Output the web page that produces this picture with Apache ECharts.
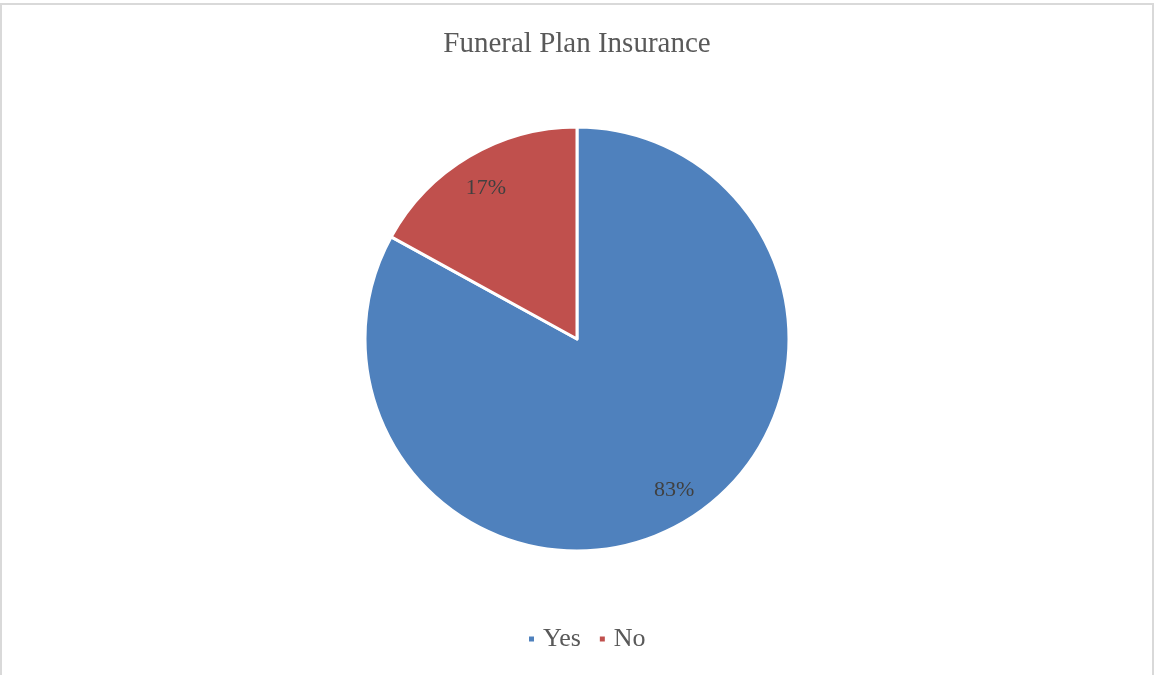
<!DOCTYPE html>
<html>
<head>
<meta charset="utf-8">
<title>Funeral Plan Insurance</title>
<script src="https://cdn.jsdelivr.net/npm/echarts@6/dist/echarts.min.js"></script>
<style>
  html, body { margin: 0; padding: 0; background: #ffffff; }
  #chart { width: 1154px; height: 675px; }
</style>
</head>
<body>
<div id="chart"></div>
<script>
// Survey answers: does the household hold funeral plan insurance?
const categories = ['Yes', 'No'];
const shares = [83, 17];
const colors = ['#4F81BD', '#C0504D'];

const serif = '"Liberation Serif", "Times New Roman", serif';
const pieData = categories.map((name, i) => ({ name: name, value: shares[i] }));

const chart = echarts.init(document.getElementById('chart'), null, { renderer: 'canvas' });

const center = [577, 339];
const radius = 212;

chart.setOption({
  backgroundColor: '#ffffff',
  animation: false,
  color: colors,
  title: {
    text: 'Funeral Plan Insurance',
    left: 'center',
    top: 30,
    padding: 0,
    textStyle: { fontFamily: serif, fontSize: 29, fontWeight: 'normal', color: '#595959' }
  },
  legend: {
    data: categories,
    bottom: 23,
    left: 527,
    padding: 0,
    icon: 'rect',
    itemWidth: 7,
    itemHeight: 7,
    itemGap: 17,
    textStyle: { fontFamily: serif, fontSize: 26, color: '#595959', padding: [0, 0, 0, 3] }
  },
  graphic: [{
    type: 'rect',
    shape: { x: 1, y: 4, width: 1152, height: 680 },
    style: { fill: 'none', stroke: '#d9d9d9', lineWidth: 2 },
    silent: true
  }],
  series: [
    {
      name: 'Funeral Plan Insurance',
      type: 'pie',
      center: center,
      radius: [0, radius],
      startAngle: 90,
      clockwise: true,
      data: pieData,
      label: { show: false },
      labelLine: { show: false },
      itemStyle: { borderColor: '#ffffff', borderWidth: 3 }
    },
    {
      // transparent ring used only to place the percentage labels near the rim
      name: 'labels',
      type: 'pie',
      center: center,
      radius: [radius * 0.66, radius],
      startAngle: 90,
      clockwise: true,
      silent: true,
      legendHoverLink: false,
      data: pieData,
      itemStyle: { color: 'rgba(0,0,0,0)', borderWidth: 0 },
      label: {
        show: true,
        position: 'inside',
        formatter: (p) => p.value + '%',
        fontFamily: serif,
        fontSize: 22,
        color: '#404040'
      },
      labelLayout: (p) => (p.dataIndex === 0 ? { dx: 6, dy: -3 } : { dy: 3 }),
      labelLine: { show: false }
    }
  ]
});
</script>
</body>
</html>
